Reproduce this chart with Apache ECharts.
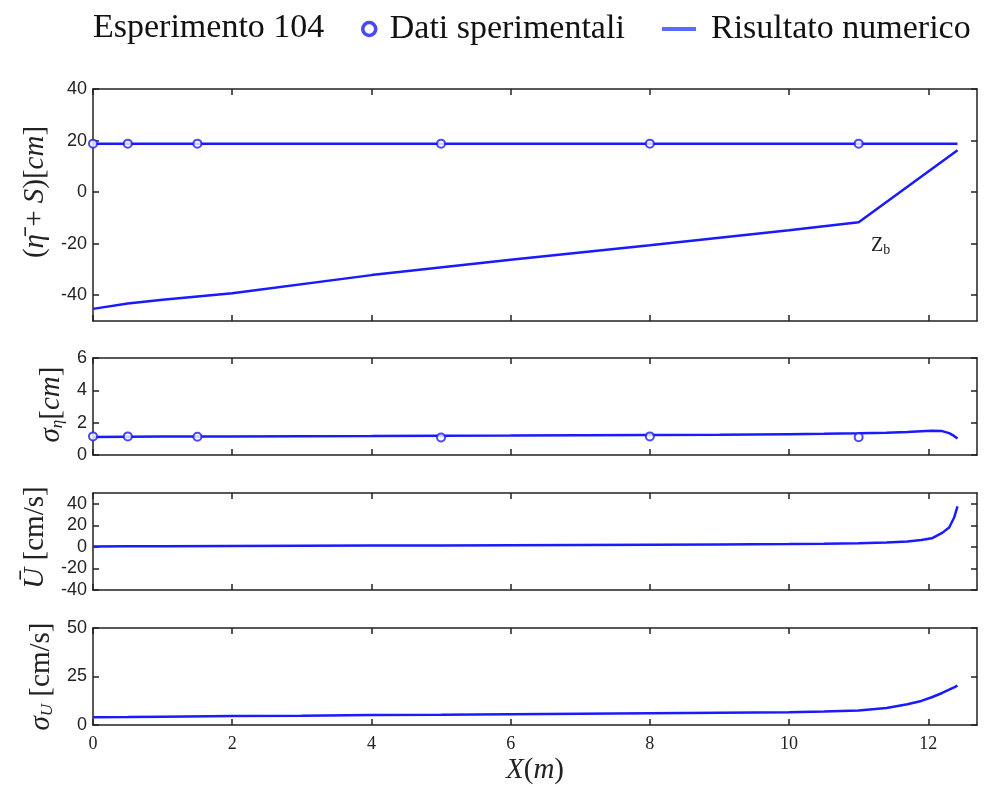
<!DOCTYPE html>
<html>
<head>
<meta charset="utf-8">
<script src="https://cdn.jsdelivr.net/npm/echarts@6/dist/echarts.min.js"></script>
<style>
  html, body { margin: 0; padding: 0; background: #fff; }
  #chart { width: 984px; height: 787px; }
</style>
</head>
<body>
<div id="chart"></div>
<script>
// Cross-shore profiles for experiment 104: numerical model vs. measurements
const xNum = [0, 0.5, 1, 2, 3, 4, 5, 6, 7, 8, 9, 10, 10.5, 11, 11.4, 11.7, 11.9, 12.05, 12.2, 12.3, 12.37, 12.42];
const etaS = [18.8, 18.8, 18.8, 18.8, 18.8, 18.8, 18.8, 18.8, 18.8, 18.8, 18.8, 18.8, 18.8, 18.8, 18.8, 18.8, 18.8, 18.8, 18.8, 18.8, 18.8, 18.8];
const sigmaEta = [1.12, 1.13, 1.14, 1.15, 1.16, 1.17, 1.19, 1.2, 1.22, 1.24, 1.26, 1.29, 1.31, 1.34, 1.38, 1.42, 1.47, 1.5, 1.48, 1.35, 1.18, 1.02];
const uMean = [0.4, 0.5, 0.6, 0.8, 1.0, 1.2, 1.4, 1.6, 1.8, 2.0, 2.3, 2.6, 2.9, 3.3, 4.0, 5.0, 6.3, 8.0, 13, 18, 27, 37.5];
const sigmaU = [4.0, 4.1, 4.3, 4.6, 4.8, 5.1, 5.3, 5.6, 5.8, 6.0, 6.3, 6.6, 6.9, 7.5, 8.8, 10.7, 12.4, 14.3, 16.5, 18.2, 19.4, 20.3];

// Bed profile z_b
const xBed = [0, 0.5, 1, 2, 4, 6, 8, 10, 11, 12.42];
const zBed = [-45.3, -43.2, -41.8, -39.2, -32.2, -26.2, -20.6, -14.8, -11.7, 16.2];

// Measurements
const xExp = [0, 0.5, 1.5, 5, 8, 11];
const etaSExp = [18.8, 18.8, 18.8, 18.8, 18.8, 18.8];
const sigmaEtaExp = [1.15, 1.15, 1.13, 1.08, 1.15, 1.1];

// Axis ticks
const xTicks = [0, 2, 4, 6, 8, 10, 12];
const yTicks1 = [-40, -20, 0, 20, 40];
const yTicks2 = [0, 2, 4, 6];
const yTicks3 = [-40, -20, 0, 20, 40];
const yTicks4 = [0, 25, 50];

const SERIF = "'Liberation Serif','Times New Roman',serif";
const SANS = "'Liberation Sans',Arial,sans-serif";
const BLUE = '#1a1aff';
const AX = '#222';

const zip = (xs, ys) => xs.map((x, i) => [x, ys[i]]);

const grids = [
  { left: 93, top: 89, width: 884, height: 232 },
  { left: 93, top: 358, width: 884, height: 97 },
  { left: 93, top: 493, width: 884, height: 97 },
  { left: 93, top: 628, width: 884, height: 97 }
];

const nameRich = {
  p: { fontFamily: SERIF, fontSize: 29, color: '#222' },
  i: { fontFamily: SERIF, fontSize: 29, fontStyle: 'italic', color: '#222' },
  sub: { fontFamily: SERIF, fontSize: 17, fontStyle: 'italic', color: '#222', verticalAlign: 'bottom', padding: [9, 0, 0, 0] }
};

const yCfg = [
  { min: -50, max: 40, ticks: yTicks1, gap: 43, shift: 26, name: '{p|(}{i|η̄}{p| + }{i|S}{p|)[}{i|cm}{p|]}' },
  { min: 0, max: 6, ticks: yTicks2, gap: 25, shift: 4, name: '{i|σ}{sub|η}{p|[}{i|cm}{p|]}' },
  { min: -40, max: 50, ticks: yTicks3, gap: 43, shift: 8, name: '{i|Ū}{p| [cm/s]}' },
  { min: 0, max: 50, ticks: yTicks4, gap: 36, shift: 0, name: '{i|σ}{sub|U}{p| [cm/s]}' }
];

const xAxes = [];
const yAxes = [];
grids.forEach((g, gi) => {
  const last = gi === grids.length - 1;
  xAxes.push({
    type: 'value', gridIndex: gi, position: 'bottom', min: 0, max: 12.7,
    axisLine: { show: true, onZero: false, lineStyle: { color: AX, width: 1.5 } },
    axisTick: { show: true, inside: true, length: 6, customValues: xTicks, lineStyle: { color: AX, width: 1.5 } },
    axisLabel: { show: last, customValues: xTicks, margin: 10, fontFamily: SERIF, fontSize: 18, color: '#222' },
    splitLine: { show: false },
    name: last ? '{i|X}{p|(}{i|m}{p|)}' : '',
    nameLocation: 'middle', nameGap: 31,
    nameTextStyle: { rich: { p: { fontFamily: SERIF, fontSize: 29, color: '#222' }, i: { fontFamily: SERIF, fontSize: 29, fontStyle: 'italic', color: '#222' } } }
  });
});
grids.forEach((g, gi) => {
  xAxes.push({
    type: 'value', gridIndex: gi, position: 'top', min: 0, max: 12.7,
    axisLine: { show: true, onZero: false, lineStyle: { color: AX, width: 1.5 } },
    axisTick: { show: true, inside: true, length: 6, customValues: xTicks, lineStyle: { color: AX, width: 1.5 } },
    axisLabel: { show: false, customValues: xTicks },
    splitLine: { show: false }
  });
});
yCfg.forEach((c, gi) => {
  yAxes.push({
    type: 'value', gridIndex: gi, position: 'left', min: c.min, max: c.max,
    axisLine: { show: true, onZero: false, lineStyle: { color: AX, width: 1.5 } },
    axisTick: { show: true, inside: true, length: 6, customValues: c.ticks, lineStyle: { color: AX, width: 1.5 } },
    axisLabel: { show: true, customValues: c.ticks, margin: 6, fontFamily: SANS, fontSize: 18, color: '#222' },
    splitLine: { show: false },
    name: c.name, nameLocation: 'middle', nameRotate: 90, nameGap: c.gap,
    nameTextStyle: { rich: nameRich, padding: [0, 0, 0, c.shift] }
  });
});
yCfg.forEach((c, gi) => {
  yAxes.push({
    type: 'value', gridIndex: gi, position: 'right', min: c.min, max: c.max,
    axisLine: { show: true, onZero: false, lineStyle: { color: AX, width: 1.5 } },
    axisTick: { show: true, inside: true, length: 6, customValues: c.ticks, lineStyle: { color: AX, width: 1.5 } },
    axisLabel: { show: false, customValues: c.ticks },
    splitLine: { show: false }
  });
});

const lineSeries = (gi, data, name) => ({
  type: 'line', name: name, xAxisIndex: gi, yAxisIndex: gi, data: data,
  symbol: 'none', smooth: false, lineStyle: { color: BLUE, width: 2.5 }, itemStyle: { color: BLUE },
  z: 3, silent: true
});
const expSeries = (gi, data) => ({
  type: 'scatter', name: 'Dati sperimentali', xAxisIndex: gi, yAxisIndex: gi, data: data,
  symbol: 'emptyCircle', symbolSize: 8, clip: false,
  itemStyle: { color: BLUE, borderColor: BLUE, borderWidth: 1.8 }, z: 4, silent: true
});

const series = [
  lineSeries(0, zip(xNum, etaS), 'Risultato numerico'),
  Object.assign(lineSeries(0, zip(xBed, zBed), 'Fondo'), {
    markPoint: {
      symbol: 'circle', symbolSize: 0, silent: true,
      data: [{ coord: [xBed[8], zBed[8]] }],
      label: {
        show: true, position: 'inside', offset: [22, 23], formatter: '{z|Z}{b|b}',
        rich: {
          z: { fontFamily: SERIF, fontSize: 20, color: '#222' },
          b: { fontFamily: SERIF, fontSize: 14, color: '#222', verticalAlign: 'bottom', padding: [10, 0, 0, 0] }
        }
      }
    }
  }),
  expSeries(0, zip(xExp, etaSExp)),
  lineSeries(1, zip(xNum, sigmaEta), 'Risultato numerico'),
  expSeries(1, zip(xExp, sigmaEtaExp)),
  lineSeries(2, zip(xNum, uMean), 'Risultato numerico'),
  lineSeries(3, zip(xNum, sigmaU), 'Risultato numerico')
];

const chart = echarts.init(document.getElementById('chart'), null, { renderer: 'canvas' });
chart.setOption({
  backgroundColor: '#fff',
  animation: false,
  title: {
    text: 'Esperimento 104', left: 88, top: 6,
    textStyle: { fontFamily: SERIF, fontSize: 34, fontWeight: 'normal', color: '#111' }
  },
  legend: [
    {
      left: 361, top: 12, padding: 0, itemWidth: 13, itemHeight: 13, selectedMode: false,
      icon: 'circle',
      itemStyle: { color: '#fff', borderColor: BLUE, borderWidth: 3.5 },
      data: ['Dati sperimentali'],
      textStyle: { fontFamily: SERIF, fontSize: 34, color: '#111', padding: [0, 0, 0, 9] }
    },
    {
      left: 662, top: 12, padding: 0, itemWidth: 34, itemHeight: 4, selectedMode: false,
      icon: 'rect',
      itemStyle: { color: '#5a6cff', borderWidth: 0 },
      data: ['Risultato numerico'],
      textStyle: { fontFamily: SERIF, fontSize: 34, color: '#111', padding: [0, 0, 0, 10] }
    }
  ],
  grid: grids,
  xAxis: xAxes,
  yAxis: yAxes,
  series: series
});
</script>
</body>
</html>
